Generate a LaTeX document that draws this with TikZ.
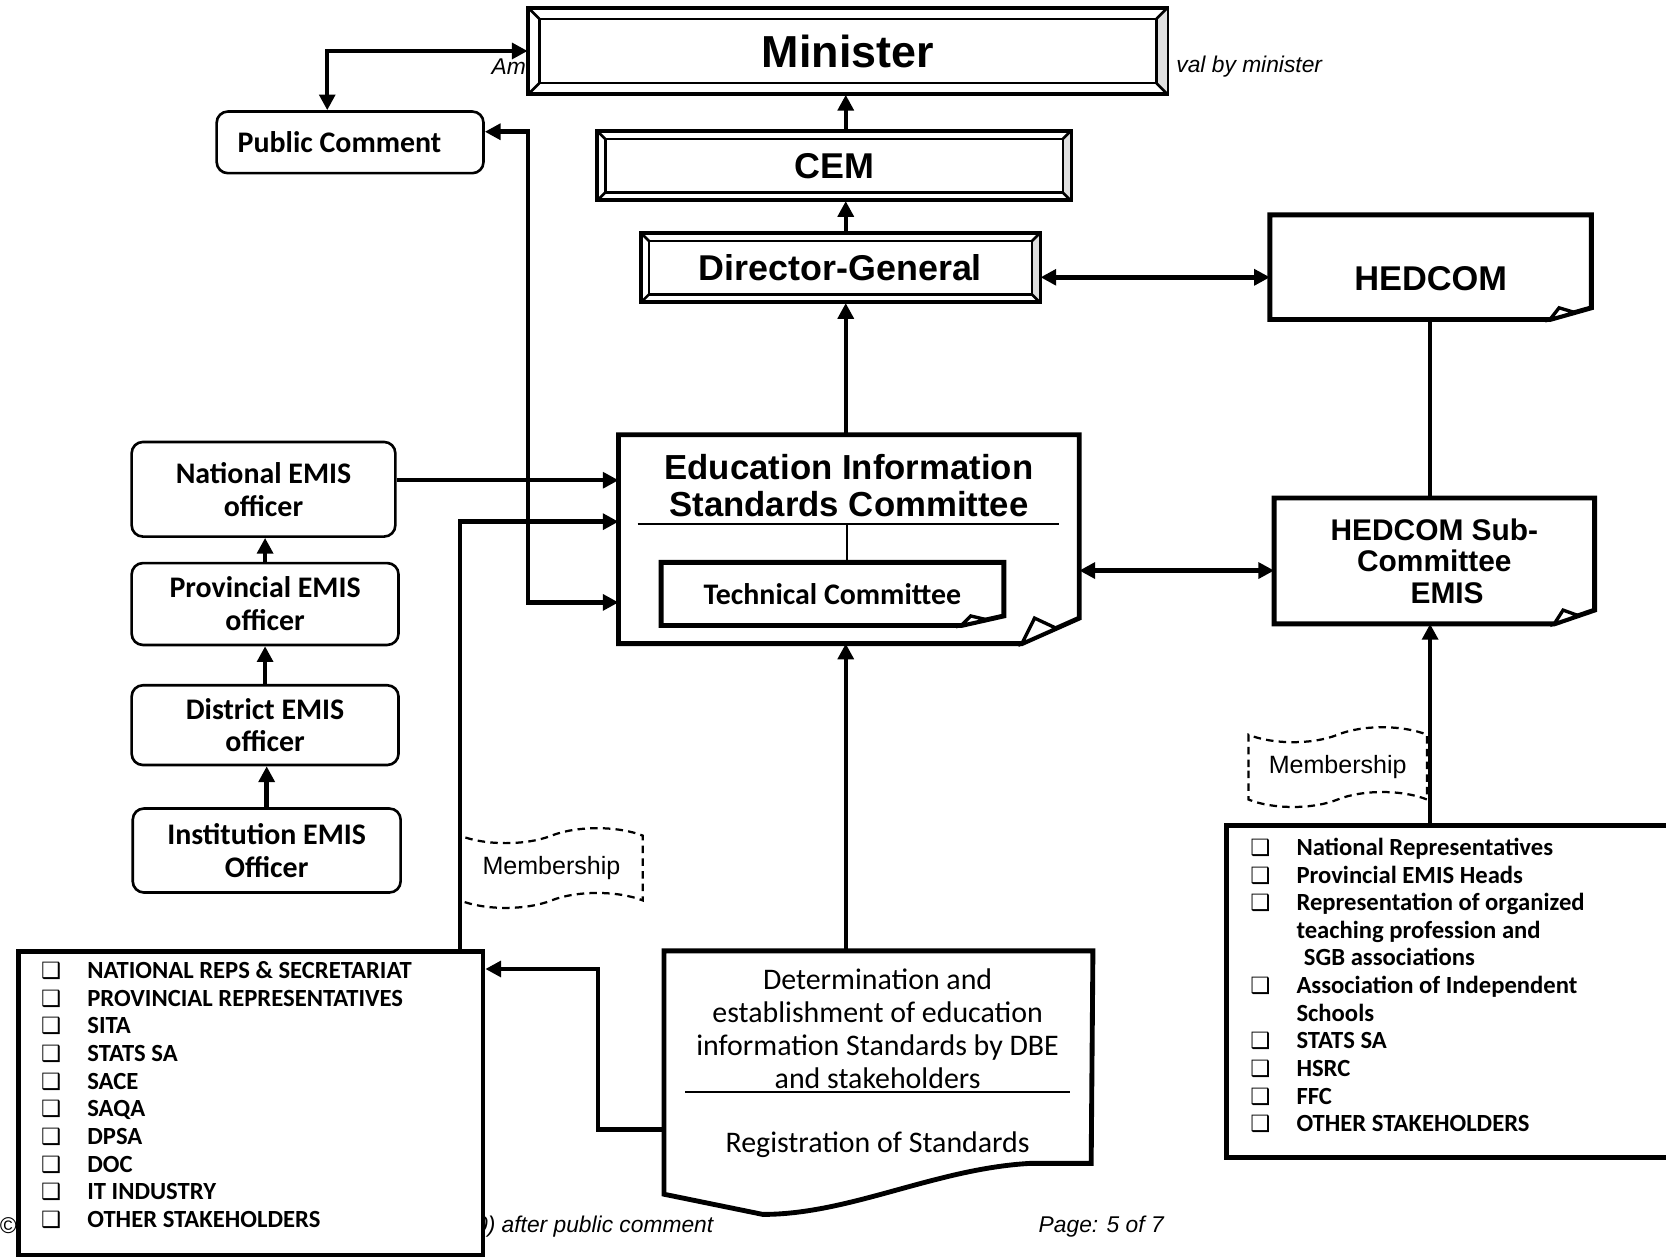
\documentclass[tikz,border=0pt]{standalone}
\usepackage{fontspec}
\setmainfont{Liberation Sans}
\newfontfamily\calibri{Carlito}
\newfontfamily\dejavu{DejaVu Sans}
\usetikzlibrary{arrows.meta,shapes.symbols}

\newcommand{\sqbox}{{\dejavu\bfseries\fontsize{6}{6}\selectfont ❑}}

% inner frame of a bevelled box: node, inset
\newcommand{\bevelframe}[2]{%
  \coordinate (#1-nw) at ([shift={(#2,#2)}]#1.north west);
  \coordinate (#1-ne) at ([shift={(-#2,#2)}]#1.north east);
  \coordinate (#1-se) at ([shift={(-#2,-#2)}]#1.south east);
  \coordinate (#1-sw) at ([shift={(#2,-#2)}]#1.south west);
  \fill[gray!25] (#1.north east) -- (#1.south east) -- (#1-se) -- (#1-ne) -- cycle;
  \draw[bevelline] (#1-nw) rectangle (#1-se);
  \draw[bevelline] (#1.north west) -- (#1-nw) (#1.north east) -- (#1-ne)
      (#1.south east) -- (#1-se) (#1.south west) -- (#1-sw);
  \draw[bevelline] (#1.north west) rectangle (#1.south east);
}
% box with a turned down corner: node, fold width, fold height
\newcommand{\foldcorner}[3]{%
  \coordinate (#1-r) at ([shift={(0,-#3)}]#1.south east);
  \coordinate (#1-b) at ([shift={(-#2,0)}]#1.south east);
  \draw[ear] (#1-b) -- (#1.south west) -- (#1.north west) -- (#1.north east) -- (#1-r) -- cycle;
  \draw[ear, line width=0.9pt, fill=white] (#1-b) -- ([shift={(0.22*#2,-#3)}]#1-b)
      -- ([shift={(0.6*#2,-0.6*#3)}]#1-b) -- cycle;
}

\tikzset{
    conn/.style={ line width=1.2pt, >={Triangle[length=4.2pt,width=4.2pt]} },
    bevelline/.style={ line width=0.7pt },
    bevelbox/.style={ draw, fill=white, line width=0.7pt, inner sep=0pt,
        font=\bfseries\fontsize{9.6}{11}\selectfont },
    ear/.style={ line width=1.3pt, line join=miter },
    earbox/.style={ inner sep=0pt, align=center, font=\bfseries\fontsize{9.2}{10.4}\selectfont },
    rbox/.style={ draw, fill=white, rounded corners=3pt, line width=0.7pt, inner sep=0pt,
        align=center, font=\calibri\bfseries\fontsize{8}{8.8}\selectfont },
    member/.style={ tape, draw, dashed, dash pattern=on 2pt off 1.4pt, line width=0.6pt,
        fill=white, inner sep=0pt, tape bend height=4pt, font=\fontsize{6.7}{8}\selectfont },
    listbox/.style={ draw, fill=white, line width=1.3pt, inner sep=0pt },
    listtext/.style={ inner sep=0pt, font=\calibri\bfseries\fontsize{6.6}{7.4}\selectfont },
    foot/.style={ inner sep=0pt, font=\itshape\fontsize{6.1}{7}\selectfont }
}

\begin{document}
\begin{tikzpicture}[x=0.01cm, y=-0.01cm]
    \useasboundingbox (0,0) rectangle (1568,1183);
    \clip (0,0) rectangle (1568,1183);

    % page text, partly hidden behind the boxes
    \node[foot, anchor=west] (am) at (462,63) {Am};
    \node[foot, anchor=east] (byminister) at (1245,63) {val by minister};
    \node[foot, anchor=west] (copyr) at (-1,1154) {©};
    \node[foot, anchor=east] (aftercomment) at (672,1154) {0) after public comment};
    \node[foot, anchor=east] (pageno) at (1096,1154) {Page: 5 of 7};

    % approval chain
    \node[bevelbox, minimum width=6cm, minimum height=0.8cm,
          font=\bfseries\fontsize{12}{14}\selectfont] (minister) at (798,48) {Minister};
    \bevelframe{minister}{11}
    \node[bevelbox, minimum width=4.44cm, minimum height=0.64cm] (cem) at (785,156) {CEM};
    \bevelframe{cem}{8}
    \node[bevelbox, minimum width=3.74cm, minimum height=0.64cm] (dg) at (791,252) {Director-General};
    \bevelframe{dg}{8}

    \node[rbox, minimum width=2.51cm, minimum height=0.58cm] (pub) at (329.5,134)
        {Public Comment\hspace*{0.2cm}};

    % HEDCOM side
    \node[earbox, minimum width=3.01cm, minimum height=0.97cm] (hedcom) at (1346.5,251.5)
        {\raisebox{-0.22cm}[0pt][0pt]{HEDCOM}};
    \foldcorner{hedcom}{39}{11}
    \node[earbox, minimum width=3cm, minimum height=1.17cm, font=\bfseries\fontsize{8}{8.4}\selectfont]
        (hsub) at (1350,528) {HEDCOM Sub-\\Committee\\\hspace*{2.4mm}EMIS};
    \foldcorner{hsub}{38}{13}

    % committee
    \node[earbox, minimum width=4.32cm, minimum height=1.95cm] (eisc) at (799,507.5) {};
    \foldcorner{eisc}{54}{24}
    \node[earbox, font=\bfseries\fontsize{9.3}{9.7}\selectfont] (eisctitle) at (799,457)
        {Education Information\\Standards Committee};
    \draw[line width=0.5pt] (600,493) -- (997,493);
    \node[earbox, minimum width=3.21cm, minimum height=0.58cm,
          font=\calibri\bfseries\fontsize{8}{9}\selectfont] (tech) at (783.5,559) {Technical Committee};
    \foldcorner{tech}{40}{9}
    \draw[line width=0.5pt] (797,493) -- (tech.north -| 797,0);

    % EMIS officers
    \node[rbox, minimum width=2.48cm, minimum height=0.89cm] (nat) at (248,460.5) {National EMIS\\officer};
    \node[rbox, minimum width=2.51cm, minimum height=0.77cm] (prov) at (249.5,568.5) {Provincial EMIS\\officer};
    \node[rbox, minimum width=2.51cm, minimum height=0.75cm] (dist) at (249.5,682.5) {District EMIS\\officer};
    \node[rbox, minimum width=2.52cm, minimum height=0.79cm] (inst) at (251,800.5) {Institution EMIS\\Officer};

    \node[member, minimum width=1.72cm, minimum height=0.75cm] (memL) at (519,817) {Membership};
    \node[member, minimum width=1.68cm, minimum height=0.75cm] (memR) at (1259,722) {Membership};

    % member lists
    \node[listbox, anchor=north west, minimum width=4.37cm, minimum height=2.86cm] (listL) at (15,893) {};
    \node[listtext, anchor=west] (listLtext) at (38,1033) {%
        \begin{tabular}{@{}c@{\hspace{7pt}}l@{}}
        \sqbox & NATIONAL REPS \& SECRETARIAT\\
        \sqbox & PROVINCIAL REPRESENTATIVES\\
        \sqbox & SITA\\
        \sqbox & STATS SA\\
        \sqbox & SACE\\
        \sqbox & SAQA\\
        \sqbox & DPSA\\
        \sqbox & DOC\\
        \sqbox & IT INDUSTRY\\
        \sqbox & OTHER STAKEHOLDERS
        \end{tabular}};
    \node[listbox, anchor=north west, minimum width=4.6cm, minimum height=3.12cm] (listR) at (1152,775) {};
    \node[listtext, anchor=west] (listRtext) at (1176,930) {%
        \begin{tabular}{@{}c@{\hspace{7pt}}l@{}}
        \sqbox & National Representatives\\
        \sqbox & Provincial EMIS Heads\\
        \sqbox & Representation of organized\\
               & teaching profession and\\
               & \hspace*{2pt}SGB associations\\
        \sqbox & Association of Independent\\
               & Schools\\
        \sqbox & STATS SA\\
        \sqbox & HSRC\\
        \sqbox & FFC\\
        \sqbox & OTHER STAKEHOLDERS
        \end{tabular}};

    % standards document
    \node[inner sep=0pt, anchor=north west, minimum width=4.02cm, minimum height=1.95cm] (det) at (625,895) {};
    \draw[ear] (det.north west) -- (det.north east) -- (1027,1095) -- (969,1095)
        .. controls (880,1100) and (800,1143) .. (718,1143) -- (625,1124) -- cycle;
    \node[listtext, align=center, font=\calibri\fontsize{8}{8.8}\selectfont] (dettext) at (826,968)
        {Determination and\\establishment of education\\information Standards by DBE\\and stakeholders};
    \draw[line width=0.6pt] (645,1028) -- (1007,1028);
    \node[listtext, font=\calibri\fontsize{8}{8.8}\selectfont] (regtext) at (826,1077) {Registration of Standards};

    % connectors
    \coordinate (spine) at (796,0);
    \coordinate (pcx) at (308,0);
    \coordinate (pcr) at (497,124);
    \coordinate (tcin) at (0,567);
    \coordinate (natin) at (0,452);
    \coordinate (memin) at (433,491);
    \coordinate (dgh) at (0,261);
    \coordinate (subin) at (0,537);
    \coordinate (hx) at (1346,0);
    \coordinate (detbend) at (563,1063);
    \coordinate (listin) at (0,912);

    \draw[conn,<->] (minister.west) -| (pub.north -| pcx);
    \draw[conn,<->] (pub.east |- pcr) -- (pcr) |- (eisc.west |- tcin);
    \draw[conn,->] (nat.east |- natin) -- (eisc.west |- natin);
    \draw[conn,->] (listL.north -| memin) -- (memin) -- (eisc.west |- memin);
    \draw[conn,->] (det.west |- detbend) -- (detbend) |- (listL.east |- listin);
    \draw[conn,->] (det.north -| spine) -- (eisc.south -| spine);
    \draw[conn,->] (eisc.north -| spine) -- (dg.south -| spine);
    \draw[conn,->] (dg.north -| spine) -- (cem.south -| spine);
    \draw[conn,->] (cem.north -| spine) -- (minister.south -| spine);
    \draw[conn,<->] (dg.east |- dgh) -- (hedcom.west |- dgh);
    \draw[conn] (hedcom.south -| hx) -- (hsub.north -| hx);
    \draw[conn,<->] (eisc.east |- subin) -- (hsub.west |- subin);
    \draw[conn,->] (listR.north -| hx) -- (hsub.south -| hx);
    \foreach \a/\b in {inst/dist, dist/prov, prov/nat}
        \draw[conn,->] (\a.north) -- (\a.north |- \b.south);

\end{tikzpicture}
\end{document}
